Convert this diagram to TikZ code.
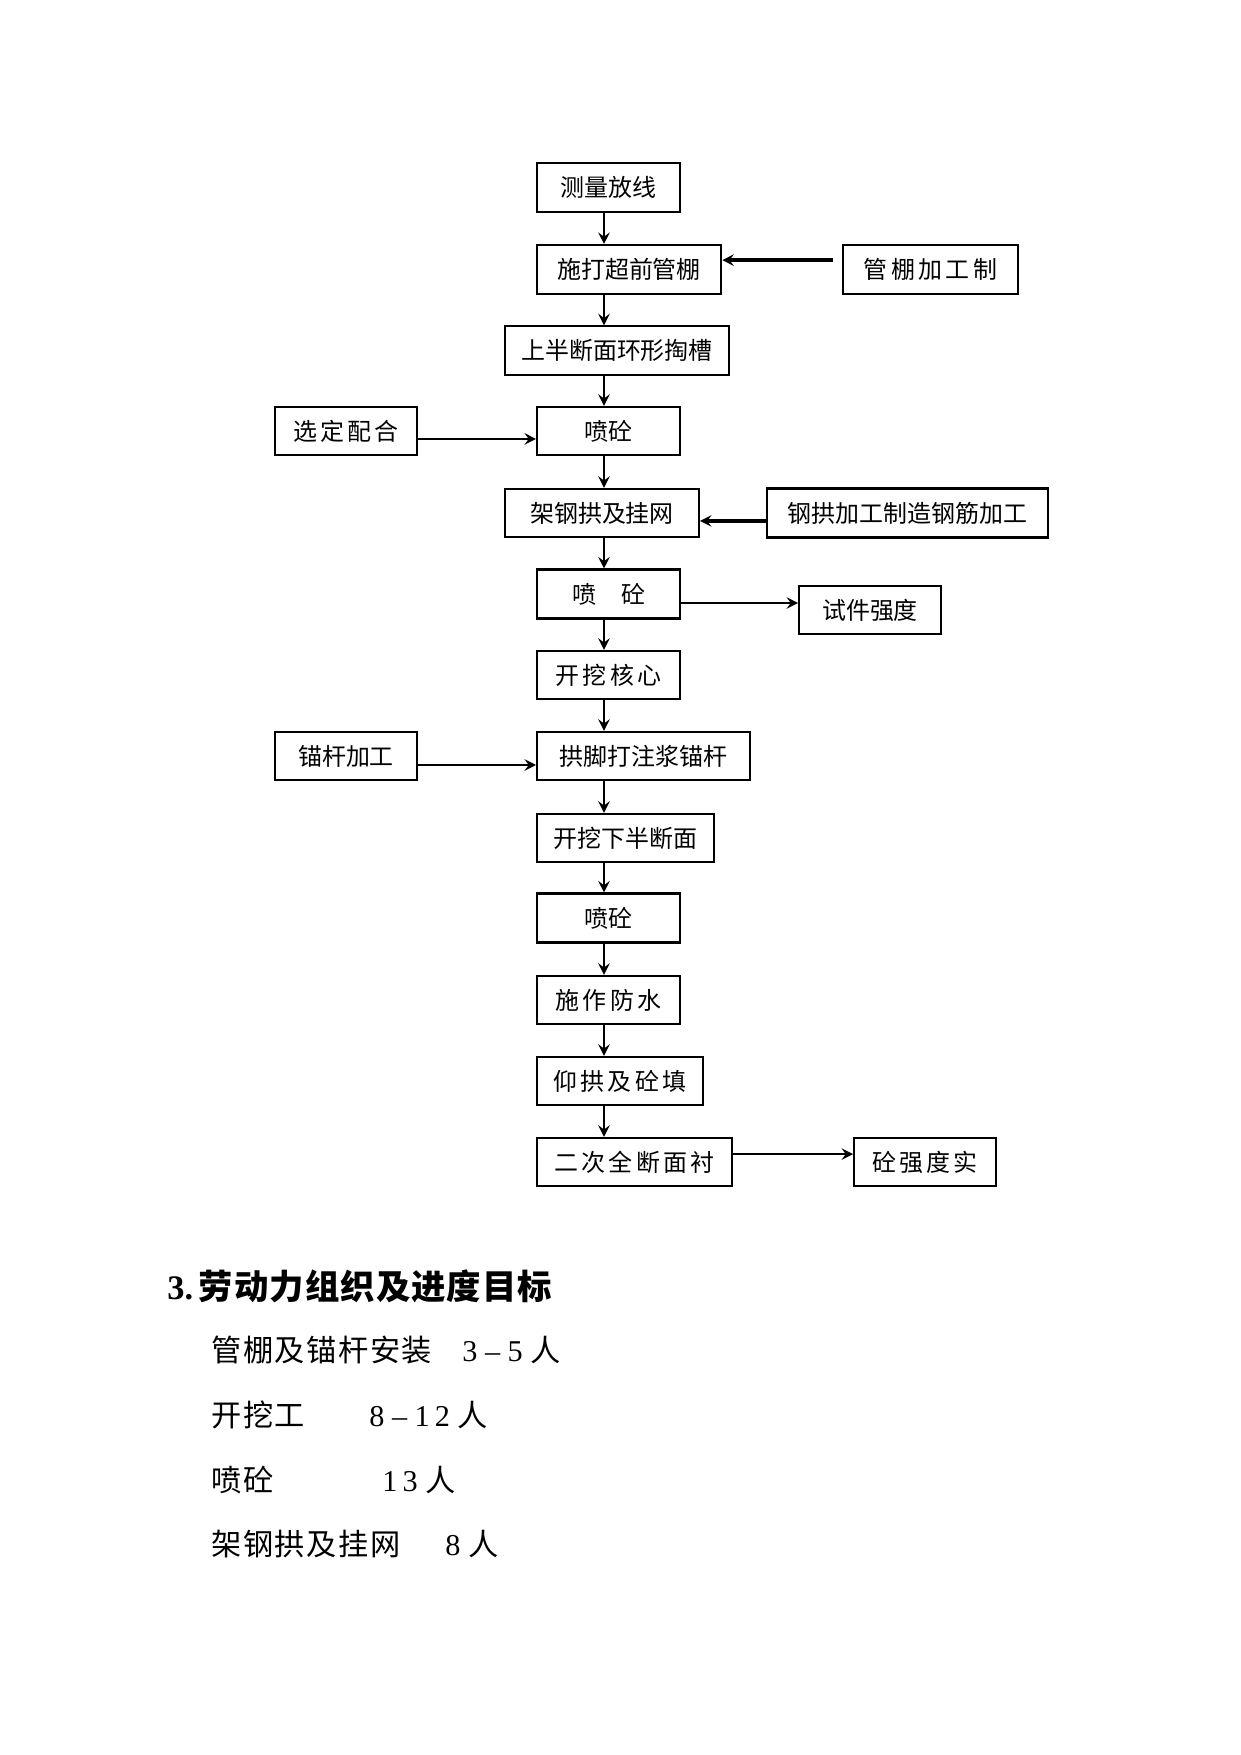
\documentclass[tikz,border=0pt]{standalone}
\usepackage{fontspec}
\setmainfont{Liberation Serif}
\newfontfamily\cjk{Noto Sans CJK SC}
\newfontfamily\cjkwide{Noto Sans CJK SC}[LetterSpace=14]
\newfontfamily\cjkline{Noto Sans CJK SC}[LetterSpace=5]
\newfontfamily\cjkhead{Noto Sans CJK SC}[LetterSpace=3]
\usetikzlibrary{arrows.meta}
\tikzset{
  box/.style={draw, rectangle, line width=0.9pt, minimum height=23.3pt, inner sep=0pt, font=\cjk\fontsize{11.5}{12}\selectfont},
  boxwide/.style={box, font=\cjkwide\fontsize{11.5}{12}\selectfont},
  heavy/.style={line width=1.2pt},
  arr/.style={-{Stealth[length=5.5pt,width=5.5pt,inset=2pt]}, line width=1.1pt},
  arrthick/.style={arr, line width=1.7pt},
  line/.style={anchor=west, font=\cjkline\fontsize{14.5}{15}\selectfont},
  count/.style={anchor=west, font=\fontsize{14.5}{15}\selectfont}
}
\begin{document}
\begin{tikzpicture}[x=0.4797pt, y=-0.4797pt]
\useasboundingbox (0,0) rectangle (1241,1755);
% main column
\node[box, heavy, minimum width=68.6pt] (b1) at (608.5,187.5) {测量放线};
\node[box, heavy, minimum width=88.3pt] (b2) at (629,269.5) {施打超前管棚};
\node[box, minimum width=107.5pt] (b3) at (617,350.5) {上半断面环形掏槽};
\node[box, minimum width=68.6pt] (b4) at (608.5,431) {喷砼};
\node[box, minimum width=93.1pt] (b5) at (602,513) {架钢拱及挂网};
\node[box, heavy, minimum width=68.6pt] (b6) at (608.5,594) {喷\hspace{12pt}砼};
\node[boxwide, minimum width=68.6pt] (b7) at (608.5,675) {开挖核心};
\node[box, minimum width=102.2pt] (b8) at (643.5,756) {拱脚打注浆锚杆};
\node[box, minimum width=84.9pt] (b9) at (625.5,838) {开挖下半断面};
\node[box, heavy, minimum width=68.6pt] (b10) at (608.5,918) {喷砼};
\node[boxwide, minimum width=68.6pt] (b11) at (608.5,1000) {施作防水};
\node[boxwide, minimum width=79.6pt] (b12) at (620,1081) {仰拱及砼填};
\node[boxwide, minimum width=93.5pt] (b13) at (634.5,1162) {二次全断面衬};
% side boxes
\node[boxwide, minimum width=84pt] (g1) at (930.5,269.5) {管棚加工制};
\node[boxwide, minimum width=68.1pt] (s1) at (346,431) {选定配合};
\node[box, heavy, minimum width=134.8pt] (g2) at (907.5,513) {钢拱加工制造钢筋加工};
\node[box, minimum width=68.1pt] (t1) at (870,610) {试件强度};
\node[box, minimum width=68.1pt] (m1) at (346,756) {锚杆加工};
\node[boxwide, minimum width=68.1pt] (c1) at (925,1162) {砼强度实};
\coordinate (col) at (604,0);
% arrows down
\draw[arr] (b1.south -| col) -- (b2.north -| col);
\draw[arr] (b2.south -| col) -- (b3.north -| col);
\draw[arr] (b3.south -| col) -- (b4.north -| col);
\draw[arr] (b4.south -| col) -- (b5.north -| col);
\draw[arr] (b5.south -| col) -- (b6.north -| col);
\draw[arr] (b6.south -| col) -- (b7.north -| col);
\draw[arr] (b7.south -| col) -- (b8.north -| col);
\draw[arr] (b8.south -| col) -- (b9.north -| col);
\draw[arr] (b9.south -| col) -- (b10.north -| col);
\draw[arr] (b10.south -| col) -- (b11.north -| col);
\draw[arr] (b11.south -| col) -- (b12.north -| col);
\draw[arr] (b12.south -| col) -- (b13.north -| col);
% arrows across
\draw[arrthick, shorten <=4.5pt] ([yshift=4.5pt]g1.west) -- ([yshift=4.5pt]b2.east);
\draw[arr] ([yshift=-3.8pt]s1.east) -- ([yshift=-3.8pt]b4.west);
\draw[arrthick] ([yshift=-3.8pt]g2.west) -- ([yshift=-3.8pt]b5.east);
\draw[arr] ([yshift=-4.3pt]b6.east) -- ([yshift=-4.3pt]b6.east -| t1.west);
\draw[arr] ([yshift=-4.3pt]m1.east) -- ([yshift=-4.3pt]b8.west);
\draw[arr] ([yshift=3.8pt]b13.east) -- ([yshift=3.8pt]c1.west);
% text below
\node[anchor=west, font=\bfseries\fontsize{16.5}{17}\selectfont] (head) at (160,1286) {3.\,{\cjkhead\bfseries 劳动力组织及进度目标}};
\node[line] (l1) at (204,1350) {管棚及锚杆安装};
\node[count] (n1) at (455,1350) {3 – 5 {\cjk 人}};
\node[line] (l2) at (204,1415) {开挖工};
\node[count] (n2) at (362,1415) {8 – 1\,2 {\cjk 人}};
\node[line] (l3) at (204,1480) {喷砼};
\node[count] (n3) at (375,1480) {1\,3 {\cjk 人}};
\node[line] (l4) at (204,1544) {架钢拱及挂网};
\node[count] (n4) at (438,1544) {8 {\cjk 人}};
\end{tikzpicture}
\end{document}
